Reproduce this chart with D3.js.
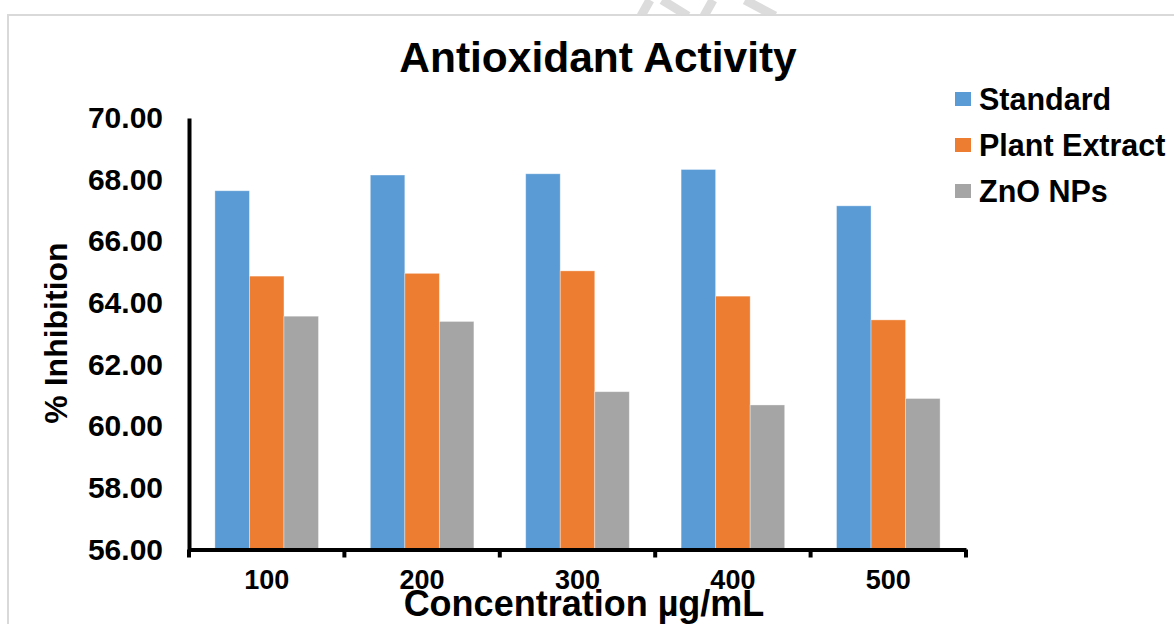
<!DOCTYPE html>
<html>
<head>
<meta charset="utf-8">
<script src="https://cdn.jsdelivr.net/npm/d3@7"></script>
<style>
  html, body { margin: 0; padding: 0; background: #fff; }
  svg { display: block; font-family: "Liberation Sans", Arial, sans-serif; }
</style>
</head>
<body>
<svg id="chart" width="1174" height="624"></svg>
<script>
// Concentrations tested (µg/mL)
const categories = ["100", "200", "300", "400", "500"];
// Series names
const seriesNames = ["Standard", "Plant Extract", "ZnO NPs"];
// % inhibition per concentration
const standardValues = [67.64, 68.15, 68.19, 68.33, 67.15];
const plantExtractValues = [64.87, 64.96, 65.04, 64.22, 63.45];
const znoValues = [63.57, 63.40, 61.12, 60.69, 60.90];
// Y axis ticks
const yTicks = [56, 58, 60, 62, 64, 66, 68, 70];

const colors = ["#5B9BD5", "#ED7D31", "#A5A5A5"];
const seriesValues = [standardValues, plantExtractValues, znoValues];

const rows = categories.map((c, i) => ({
  cat: c,
  vals: seriesNames.map((s, j) => ({ key: s, value: seriesValues[j][i], color: colors[j] }))
}));

const svg = d3.select("#chart");

// Faint watermark fragments peeking above the frame
const wm = svg.append("g").attr("stroke", "#dcdcdc").attr("stroke-width", 9).attr("fill", "none");
wm.append("path").attr("d", "M641,16 L650,0");
wm.append("path").attr("d", "M662,0 L688,16");
wm.append("path").attr("d", "M704,16 L713,0");
wm.append("path").attr("d", "M745,0 L775,16");

// Chart frame
svg.append("rect")
  .attr("x", 8).attr("y", 15)
  .attr("width", 1180).attr("height", 620)
  .attr("fill", "#fff")
  .attr("stroke", "#d9d9d9").attr("stroke-width", 2);

const plotLeft = 189, plotRight = 966, plotTop = 118, plotBottom = 549.5;

const x = d3.scaleBand().domain(categories).range([plotLeft, plotRight]).padding(0);
const bw = x.bandwidth();
const barW = bw / 4.5;
const xInner = d3.scaleBand().domain(seriesNames)
  .range([barW * 0.75, bw - barW * 0.75]).padding(0);

const y = d3.scaleLinear().domain([56, 70]).range([plotBottom, plotTop]);

// Bars
const groups = svg.append("g").selectAll("g")
  .data(rows).join("g")
  .attr("transform", d => `translate(${x(d.cat)},0)`);

groups.selectAll("rect")
  .data(d => d.vals).join("rect")
  .attr("x", d => xInner(d.key))
  .attr("y", d => y(d.value))
  .attr("width", xInner.bandwidth())
  .attr("height", d => y(56) - y(d.value))
  .attr("fill", d => d.color)
  .attr("stroke", "#ffffff")
  .attr("stroke-opacity", 0.45)
  .attr("stroke-width", 0.8);

// Y axis
const yAxis = svg.append("g")
  .attr("transform", `translate(${plotLeft},0)`)
  .call(d3.axisLeft(y).tickValues(yTicks).tickFormat(d3.format(".2f")).tickSize(0).tickPadding(26));
yAxis.select(".domain").attr("stroke", "#000").attr("stroke-width", 4);
yAxis.selectAll("text")
  .attr("font-size", 30).attr("font-weight", "bold").attr("fill", "#000")
  .attr("font-family", "Liberation Sans, Arial, sans-serif");

// X axis
const xAxis = svg.append("g")
  .attr("transform", `translate(0,${plotBottom})`)
  .call(d3.axisBottom(x).tickSize(0).tickPadding(20));
xAxis.select(".domain").attr("stroke", "#000").attr("stroke-width", 4);
xAxis.selectAll("text")
  .attr("font-size", 27).attr("font-weight", "bold").attr("fill", "#000")
  .attr("font-family", "Liberation Sans, Arial, sans-serif");

// Category boundary ticks
const bounds = categories.map(c => x(c)).concat([x.range()[1]]);
svg.append("g").selectAll("line")
  .data(bounds).join("line")
  .attr("x1", d => d).attr("x2", d => d)
  .attr("y1", plotBottom).attr("y2", plotBottom + 8)
  .attr("stroke", "#000").attr("stroke-width", 4);

// Title
svg.append("text")
  .attr("x", 598).attr("y", 72)
  .attr("text-anchor", "middle")
  .attr("font-size", 42.5).attr("font-weight", "bold")
  .text("Antioxidant Activity");

// Axis titles
svg.append("text")
  .attr("x", 584).attr("y", 616)
  .attr("text-anchor", "middle")
  .attr("font-size", 36).attr("font-weight", "bold")
  .text("Concentration µg/mL");

svg.append("text")
  .attr("transform", "translate(67,333) rotate(-90)")
  .attr("text-anchor", "middle")
  .attr("font-size", 32).attr("font-weight", "bold")
  .text("% Inhibition");

// Legend
const legend = svg.append("g").selectAll("g")
  .data(seriesNames).join("g")
  .attr("transform", (d, i) => `translate(955,${99 + i * 46})`);
legend.append("rect")
  .attr("x", 0).attr("y", -7).attr("width", 16).attr("height", 14)
  .attr("fill", (d, i) => colors[i]);
legend.append("text")
  .attr("x", 24).attr("y", 0).attr("dy", "0.36em")
  .attr("font-size", 30.5).attr("font-weight", "bold")
  .text(d => d);
</script>
</body>
</html>
